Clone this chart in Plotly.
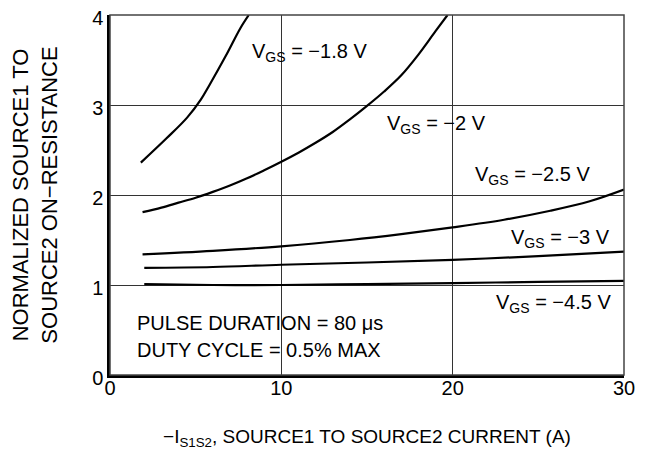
import plotly.graph_objects as go

# Data
x_18 = [1.8, 3.3, 4.5, 5.3, 5.8, 6.8, 7.6, 8.1]
y_18 = [2.36, 2.63, 2.86, 3.06, 3.22, 3.56, 3.85, 4.0]

x_20 = [1.9, 3, 4, 5, 6, 7, 8, 9, 10, 11, 12, 13, 14, 15, 16, 17, 18, 19, 19.7]
y_20 = [1.81, 1.86, 1.915, 1.97, 2.035, 2.105, 2.185, 2.275, 2.37, 2.47, 2.58, 2.70, 2.84, 2.99, 3.15, 3.33, 3.56, 3.82, 4.0]

x_25 = [1.9, 6, 10, 14, 17, 20, 23, 25.7, 28, 30]
y_25 = [1.34, 1.38, 1.43, 1.50, 1.565, 1.64, 1.725, 1.825, 1.93, 2.06]

x_30 = [2.0, 6, 10, 15, 20, 25, 30]
y_30 = [1.19, 1.20, 1.225, 1.25, 1.28, 1.32, 1.37]

x_45 = [2.0, 6, 10, 15, 20, 25, 30]
y_45 = [1.01, 1.00, 1.00, 1.01, 1.02, 1.035, 1.045]

x_ticks = [0, 10, 20, 30]
y_ticks = [0, 1, 2, 3, 4]

labels = ["V<sub>GS</sub> = \u22121.8 V", "V<sub>GS</sub> = \u22122 V", "V<sub>GS</sub> = \u22122.5 V",
          "V<sub>GS</sub> = \u22123 V", "V<sub>GS</sub> = \u22124.5 V"]
label_x = [8.17, 16.05, 21.2, 29.3, 29.35]
label_y = [3.58, 2.78, 2.22, 1.52, 0.79]
label_anchor = ["left", "left", "left", "right", "right"]

FONT = "Liberation Sans, Arial, sans-serif"
FS = 20

fig = go.Figure()
for xs, ys in [(x_18, y_18), (x_20, y_20), (x_25, y_25), (x_30, y_30), (x_45, y_45)]:
    fig.add_trace(go.Scatter(x=xs, y=ys, mode="lines",
                             line=dict(color="black", width=2.2, shape="spline", smoothing=1.0),
                             showlegend=False, hoverinfo="skip"))

for t, lx, ly, an in zip(labels, label_x, label_y, label_anchor):
    fig.add_annotation(x=lx, y=ly, text=t, showarrow=False, xanchor=an, yanchor="middle",
                       font=dict(family=FONT, size=FS, color="black"))

fig.add_annotation(x=1.46, y=0.578, text="PULSE DURATION = 80 \u03bcs", showarrow=False, xanchor="left",
                   yanchor="middle", font=dict(family=FONT, size=FS, color="black"))
fig.add_annotation(x=1.46, y=0.278, text="DUTY CYCLE = 0.5% MAX", showarrow=False, xanchor="left",
                   yanchor="middle", font=dict(family=FONT, size=FS, color="black"))

# box (top/right border)
fig.add_shape(type="rect", xref="paper", yref="paper", x0=0, y0=0, x1=1, y1=1,
              line=dict(color="#444", width=1.5), layer="above")

fig.update_layout(
    width=639, height=443,
    margin=dict(l=102, r=23, t=7, b=76, autoexpand=False),
    plot_bgcolor="white", paper_bgcolor="white",
    font=dict(family=FONT, size=FS, color="black"),
    xaxis=dict(range=[0, 30], tickvals=x_ticks, ticktext=[str(v) for v in x_ticks],
               showgrid=True, gridcolor="#333", gridwidth=1, zeroline=False,
               showline=True, linecolor="black", linewidth=2.5, ticks="",
               tickfont=dict(family=FONT, size=20), ticklabeloverflow="allow",
               ticklabelstandoff=-7, automargin=False,
               title=dict(text="\u2212I<sub>S1S2</sub>, SOURCE1 TO SOURCE2 CURRENT (A)", standoff=32,
                          font=dict(family=FONT, size=19))),
    yaxis=dict(range=[0, 4], tickvals=y_ticks, ticktext=[str(v) for v in y_ticks],
               showgrid=True, gridcolor="#333", gridwidth=1, zeroline=False,
               showline=True, linecolor="black", linewidth=2.5, ticks="",
               tickfont=dict(family=FONT, size=20), ticklabeloverflow="allow", automargin=False,
               ticklabelshift=3,
               title=dict(text="NORMALIZED SOURCE1 TO<br>SOURCE2 ON\u2212RESISTANCE", standoff=32,
                          font=dict(family=FONT, size=22))),
)

fig.write_html("out.html")
